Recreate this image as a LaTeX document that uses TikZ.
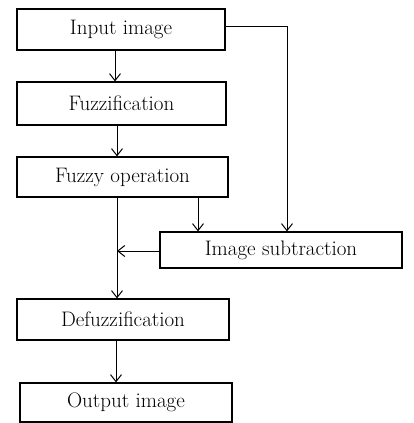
\documentclass[tikz,border=0pt]{standalone}
\usetikzlibrary{arrows.meta}
\begin{document}
\begin{tikzpicture}[x=1pt,y=-1pt,
  box/.style={draw,line width=1.2pt,inner sep=0pt,font=\fontsize{21}{24}\selectfont},
  conn/.style={line width=1pt,-{Straight Barb[length=7pt,width=11pt,line width=1pt]}},
  line/.style={line width=1pt}]
\useasboundingbox (0,0) rectangle (414,423);
\node[box,minimum width=208pt,minimum height=41pt] (in) at (121,29.5) {Input image};
\node[box,minimum width=209pt,minimum height=43pt] (fz) at (121.5,103.5) {Fuzzification};
\node[box,minimum width=211pt,minimum height=40pt] (op) at (122.5,177) {Fuzzy operation};
\node[box,minimum width=242pt,minimum height=36pt] (sub) at (281,250) {Image subtraction};
\node[box,minimum width=212pt,minimum height=41pt] (df) at (123,319.5) {Defuzzification};
\node[box,minimum width=212pt,minimum height=39pt] (out) at (126,402.5) {Output image};
\coordinate (c1) at (287,26);
\coordinate (j) at (117,251);
\draw[conn] (in.south -| 115,0) -- (fz.north -| 115,0);
\draw[conn] (fz.south -| 117,0) -- (op.north -| 117,0);
\draw[conn] (op.south -| 198,0) -- (sub.north -| 198,0);
\draw[conn] (in.east |- c1) -- (c1) -- (sub.north -| c1);
\draw[conn] (op.south -| j) -- (df.north -| j);
\draw[conn] (sub.west |- j) -- (j);
\draw[conn] (df.south -| 116,0) -- (out.north -| 116,0);
\end{tikzpicture}
\end{document}
